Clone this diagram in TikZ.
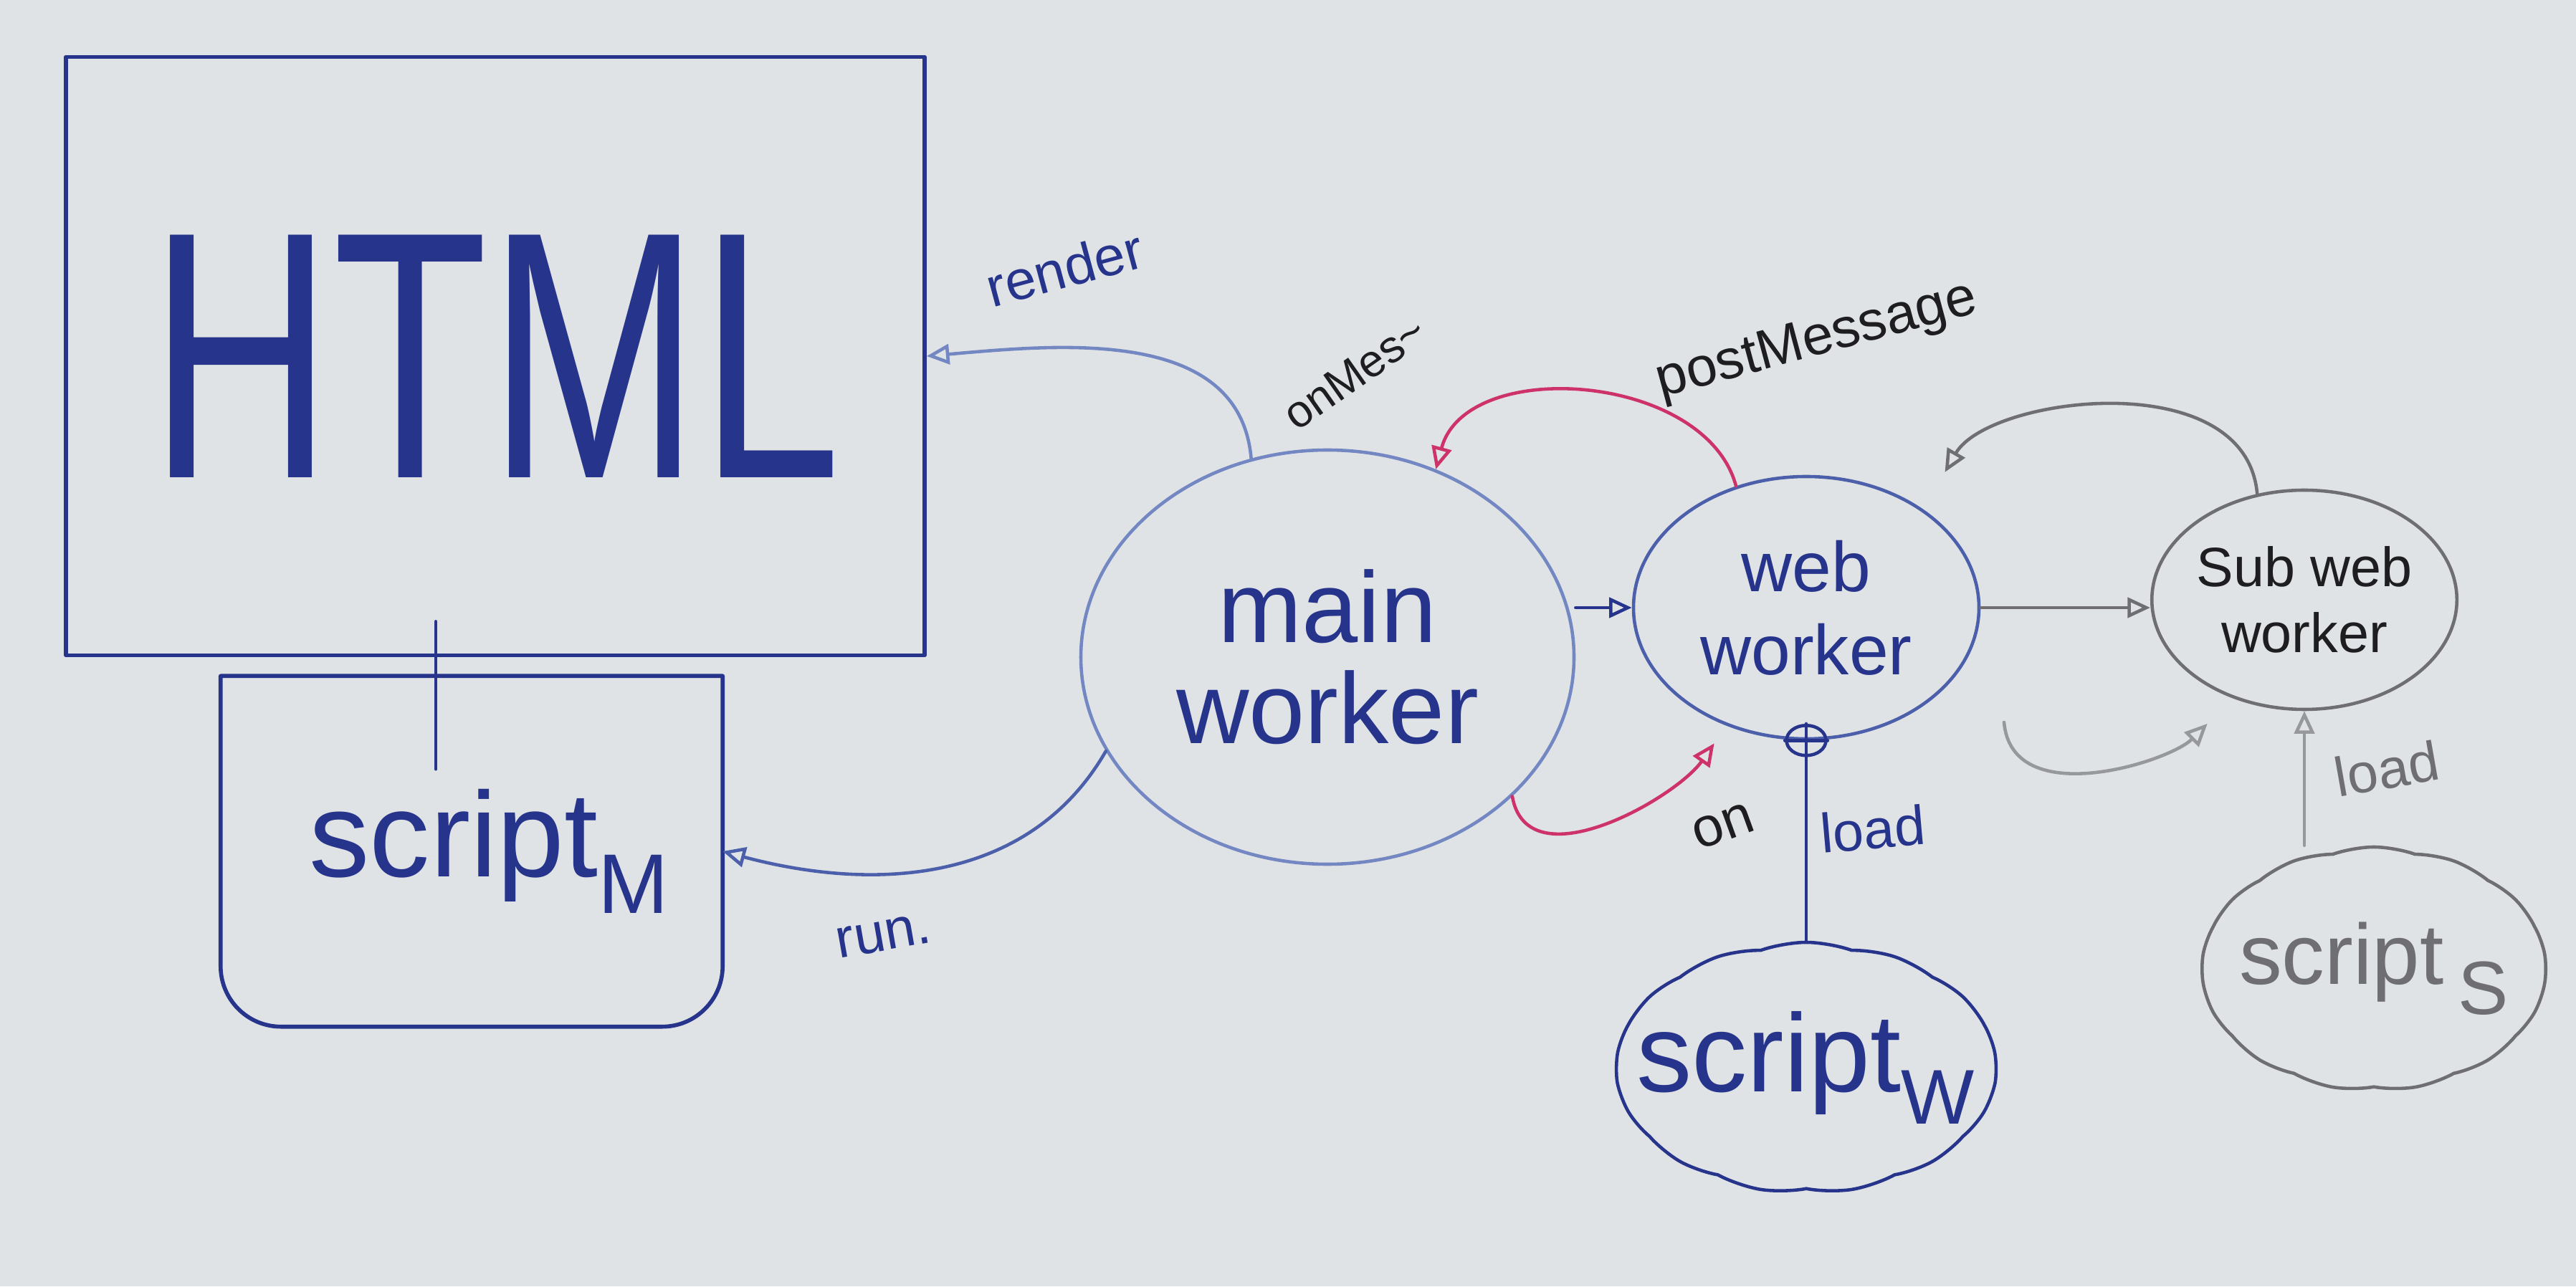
\documentclass[tikz,border=0pt]{standalone}
\usepackage{fontspec}
\usepackage{graphicx}
\setmainfont{Liberation Sans}
\usetikzlibrary{arrows.meta,shapes.geometric,shapes.symbols}
\definecolor{board}{RGB}{224,227,229}
\definecolor{inkblue}{RGB}{38,52,140}
\definecolor{midblue}{RGB}{75,95,170}
\definecolor{paleblue}{RGB}{115,135,195}
\definecolor{inkred}{RGB}{205,50,105}
\definecolor{inkblack}{RGB}{30,30,32}
\definecolor{inkgrey}{RGB}{110,110,115}
\definecolor{fadegrey}{RGB}{150,152,156}
\begin{document}
\begin{tikzpicture}[scale=1,
    line cap=round, line join=round,
    tip/.style={-{Triangle[open,length=9pt,width=8pt]}},
    pen/.style={line width=1.3pt},
    blob/.style={ellipse,pen,inner sep=0pt,align=center},
    puff/.style={cloud,cloud puffs=13,cloud puff arc=40,cloud ignores aspect,pen,inner sep=0pt},
    lbl/.style={inner sep=1pt,font=\fontsize{22}{22}\selectfont}
]
            \fill[board] (0,0) rectangle (35.94,17.95);
            \useasboundingbox (0,0) rectangle (35.94,17.95);

            \node[draw=inkblue,line width=1.6pt,minimum width=11.98cm,minimum height=8.35cm,inner sep=0pt,
                text=inkblue,font=\fontsize{140}{140}\selectfont] (html) at (6.91,12.98) {\scalebox{0.72}[1]{HTML}};
            \node[minimum width=6.99cm,minimum height=4.88cm,inner sep=0pt,text=inkblue,
                font=\fontsize{48}{48}\selectfont] (scm) at (6.58,6.07) {\hspace*{5mm}script\textsubscript{M}};
            \draw[inkblue,line width=1.6pt] (scm.north west) -- (scm.north east) [rounded corners=24pt] -- (scm.south east) -- (scm.south west) -- (scm.north west);

            \node[blob,draw=paleblue,text=inkblue,minimum width=6.88cm,minimum height=5.78cm,
                font=\fontsize{40}{40}\selectfont] (main) at (18.52,8.78) {main\\worker};
            \node[blob,draw=midblue,text=inkblue,minimum width=4.82cm,minimum height=3.66cm,
                font=\fontsize{28}{33}\selectfont] (web) at (25.2,9.47) {web\\worker};
            \node[blob,draw=inkgrey,text=inkblack,minimum width=3.1cm,minimum height=3.06cm,
                font=\fontsize{22}{26}\selectfont] (sub) at (32.15,9.58) {Sub web\\worker};
            \node[ellipse,draw=inkblue,pen,minimum width=0.55cm,minimum height=0.42cm,inner sep=0pt] (hub) at (web.south) {};

            \node[puff,draw=inkblue,minimum width=5.3cm,minimum height=3.5cm,
                label={[text=inkblue,font=\fontsize{44}{44}\selectfont]center:script\textsubscript{W}}] (sw) at (25.2,3.05) {};
            \node[puff,draw=inkgrey,minimum width=4.8cm,minimum height=3.4cm,
                label={[text=inkgrey,font=\fontsize{34}{34}\selectfont]center:script\,\raisebox{-12pt}{\fontsize{30}{30}\selectfont S}}] (ss) at (33.12,4.43) {};

            \draw[inkblue,pen,shorten <=-0.5cm,shorten >=-1.3cm] ([xshift=-5mm]scm.north |- html.south) -- ([xshift=-5mm]scm.north);
            \draw[paleblue,pen,tip] (main.111) to[out=95,in=5] (html.east);
            \draw[midblue,pen,tip] (main.203) to[out=240,in=-15] (scm.east);
            \draw[inkblue,pen,tip] (main.east |- web.west) -- (web.west);
            \draw[inkred,pen,tip] (web.120) to[out=105,in=75] (main.60);
            \draw[inkred,pen,tip,shorten >=0.3cm] (main.-37) to[out=-80,in=235] (web.236);
            \draw[inkblue,pen] (sw.north) -- (hub.north);
            \draw[inkblue,pen] (hub.west) -- (hub.east);

            \draw[inkgrey,pen,tip] (web.east) -- (web.east -| sub.west);
            \draw[inkgrey,pen,tip,shorten >=0.6cm] (sub.114) to[out=95,in=60] (web.40);
            \coordinate (loose) at (27.96,7.87);
            \draw[fadegrey,pen,tip,shorten >=0.5cm] (loose) to[out=-85,in=225] (sub.234);
            \draw[fadegrey,pen,tip] (ss.north -| sub.south) -- (sub.south);

            \node[lbl,text=inkblue,rotate=15] (render) at (14.85,14.21) {render};
            \node[lbl,text=inkblack,rotate=35,font=\fontsize{18}{18}\selectfont] (onmes) at (18.9,12.75) {onMes\textasciitilde};
            \node[lbl,text=inkblack,rotate=15] (post) at (25.35,13.18) {postMessage};
            \node[lbl,text=inkblue,rotate=10] (run) at (12.33,4.89) {run.};
            \node[lbl,text=inkblack,rotate=20] (on) at (24.04,6.42) {on};
            \node[lbl,text=inkblue,rotate=5] (loadw) at (26.13,6.38) {load};
            \node[lbl,text=inkgrey,rotate=10] (loads) at (33.3,7.22) {load};
\end{tikzpicture}
\end{document}
